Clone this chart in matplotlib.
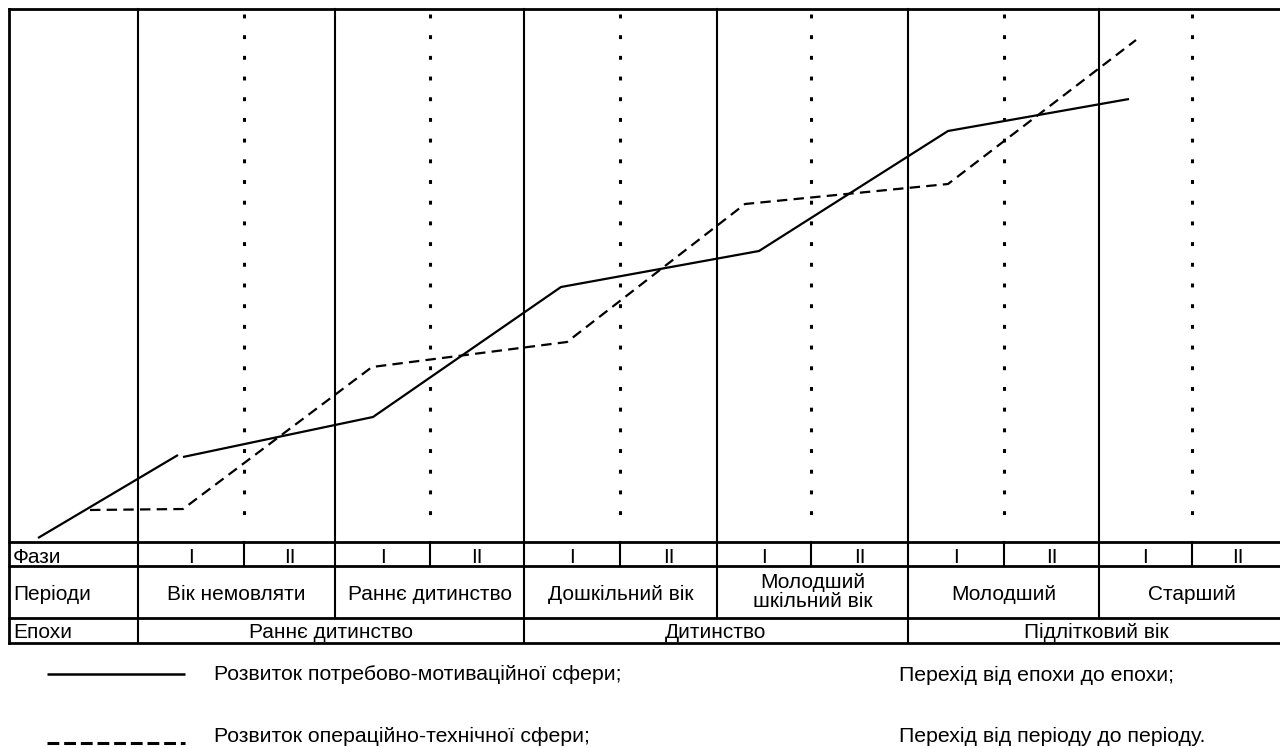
import matplotlib
matplotlib.use("Agg")
import matplotlib.pyplot as plt

plt.rcParams["font.family"] = ["Liberation Sans", "DejaVu Sans"]
plt.rcParams["lines.scale_dashes"] = False

# ── Data (x/y, pixel space of the drawing) ───────────────────────────────────
# period boundaries (solid verticals) and phase boundaries (dotted verticals)
PERIOD_X = [138, 335, 524, 717, 908, 1099]
PHASE_X = [244, 430, 620, 811, 1004, 1192]
EPOCH_X = [138, 524, 908]
RIGHT_X = 1284

PERIODS = ["Вік немовляти", "Раннє дитинство", "Дошкільний вік",
           "Молодший\nшкільний вік", "Молодший", "Старший"]
EPOCHS = ["Раннє дитинство", "Дитинство", "Підлітковий вік"]
PHASES = ["I", "II"]

# need/motivation sphere (solid), two pieces
MOT1_X = [38, 178]
MOT1_Y = [538, 455]
MOT2_X = [183, 373, 561, 759, 948, 1129]
MOT2_Y = [457, 417, 287, 251, 131, 99]
# operational/technical sphere (dashed)
OPR_X = [90, 183, 372, 567, 745, 948, 1136]
OPR_Y = [510, 509, 367, 342, 204, 184, 40]

LEG_LABELS = ["Розвиток потребово-мотиваційної сфери;",
              "Розвиток операційно-технічної сфери;"]
LEG_RIGHT = ["Перехід від епохи до епохи;", "Перехід від періоду до періоду."]

# geometry
LEFT, TOP = 9, 9
T_PHASE, T_PER, T_EPO, BOTTOM = 542, 566, 618, 643
BASE_PHASE, BASE_PER, BASE_EPO = 563, 600, 638

fig = plt.figure(figsize=(12.8, 7.48), dpi=100)
ax = fig.add_axes([0, 0, 1, 1])
ax.set_xlim(0, 1280)
ax.set_ylim(748, 0)
ax.axis("off")

K = "black"
LW_BOX = 2.0
LW_IN = 1.5

# outer frame + horizontal rules
ax.plot([LEFT, RIGHT_X], [TOP, TOP], color=K, lw=LW_BOX)
ax.plot([LEFT, LEFT], [TOP, BOTTOM], color=K, lw=LW_BOX)
for y in [T_PHASE, T_PER, T_EPO, BOTTOM]:
    ax.plot([LEFT, RIGHT_X], [y, y], color=K, lw=LW_BOX)

# solid verticals: epoch lines go to bottom, others stop at epoch row
for x in PERIOD_X:
    yb = BOTTOM if x in EPOCH_X else T_EPO
    ax.plot([x, x], [TOP, yb], color=K, lw=LW_IN)

# dotted verticals in plot area, solid splits in phase row
for x in PHASE_X:
    ax.plot([x, x], [14, 528], color=K, lw=2.2, dashes=(2.8, 12.1),
            solid_capstyle="butt", dash_capstyle="butt")
    ax.plot([x, x], [T_PHASE, T_PER], color=K, lw=LW_IN)

# lines
ax.plot(MOT1_X, MOT1_Y, color=K, lw=1.6, solid_capstyle="butt")
ax.plot(MOT2_X, MOT2_Y, color=K, lw=1.6, solid_capstyle="butt")
ax.plot(OPR_X, OPR_Y, color=K, lw=1.6, dashes=(7.5, 4.5),
        dash_capstyle="butt")

FS = 15
# row headers
for lab, yb in [("Фази", BASE_PHASE), ("Періоди", BASE_PER), ("Епохи", BASE_EPO)]:
    ax.text(LEFT + 4, yb, lab, fontsize=FS, ha="left", va="baseline")

# phase numerals
bounds = PERIOD_X + [RIGHT_X]
for i in range(len(PERIOD_X)):
    xs = [bounds[i], PHASE_X[i], bounds[i + 1]]
    for j, ph in enumerate(PHASES):
        ax.text((xs[j] + xs[j + 1]) / 2, BASE_PHASE, ph,
                fontsize=FS, ha="center", va="baseline")

# periods
for i, lab in enumerate(PERIODS):
    cx = (bounds[i] + bounds[i + 1]) / 2
    if "\n" in lab:
        for k, part in enumerate(lab.split("\n")):
            ax.text(cx, 588 + 19 * k, part, fontsize=FS, ha="center",
                    va="baseline")
    else:
        ax.text(cx, BASE_PER, lab, fontsize=FS, ha="center", va="baseline")

# epochs
ebounds = EPOCH_X + [RIGHT_X]
for i, lab in enumerate(EPOCHS):
    ax.text((ebounds[i] + ebounds[i + 1]) / 2, BASE_EPO, lab,
            fontsize=FS, ha="center", va="baseline")

# legend
LEG_FS = 15.3
ax.plot([47, 185], [674, 674], color=K, lw=1.8, solid_capstyle="butt")
ax.plot([47, 185], [743, 743], color=K, lw=2.2, dashes=(8.5, 3.5),
        dash_capstyle="butt")
for lab, y in zip(LEG_LABELS, [680, 742]):
    ax.text(214, y, lab, fontsize=LEG_FS, ha="left", va="baseline")
for lab, y in zip(LEG_RIGHT, [681, 742]):
    ax.text(899, y, lab, fontsize=LEG_FS, ha="left", va="baseline")

fig.savefig("out.png", dpi=100)
